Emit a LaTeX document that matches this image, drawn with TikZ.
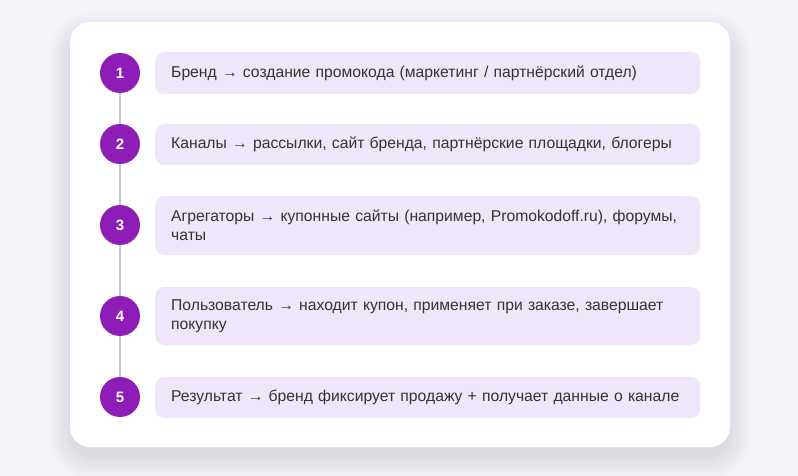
\documentclass[tikz,border=0pt]{standalone}
\usepackage{fontspec}
\setmainfont{Liberation Sans}
\definecolor{bgc}{RGB}{245,242,250}
\definecolor{boxc}{RGB}{240,230,249}
\definecolor{purp}{RGB}{142,29,184}
\definecolor{linec}{RGB}{200,200,200}
\definecolor{txt}{RGB}{51,51,51}
\tikzset{
  numc/.style={circle,fill=purp,minimum size=40pt,inner sep=0pt,text=white,font=\fontsize{15}{18}\selectfont\bfseries},
  stepbox/.style={rectangle,rounded corners=9pt,fill=boxc,anchor=west,minimum width=545pt,text width=513pt,inner xsep=16pt,align=left,text=txt,font=\fontsize{15.7}{19}\selectfont},
  vline/.style={draw=linec,line width=2pt}
}
\begin{document}
\begin{tikzpicture}[x=1pt,y=-1pt]
\fill[bgc] (0,0) rectangle (798,476);
\useasboundingbox (0,0) rectangle (798,476);
% shadow
\foreach \i in {1,...,24}{
  \fill[black,opacity=0.005,rounded corners=20pt+\i pt] (72-\i,22-\i+14) rectangle (728+\i,447+\i+8);
}
\fill[white,rounded corners=20pt] (70,22) rectangle (730,447);
% circles
\node[numc] (c1) at (120,73) {1};
\node[numc] (c2) at (120,144) {2};
\node[numc] (c3) at (120,225) {3};
\node[numc] (c4) at (120,316) {4};
\node[numc] (c5) at (120,397) {5};
% boxes
\node[stepbox,minimum height=42pt] (b1) at (155,73) {Бренд → создание промокода (маркетинг / партнёрский отдел)};
\node[stepbox,minimum height=41pt] (b2) at (155,144.5) {Каналы → рассылки, сайт бренда, партнёрские площадки, блогеры};
\node[stepbox,minimum height=59pt] (b3) at (155,225.5) {Агрегаторы → купонные сайты (например, Promokodoff.ru), форумы,\\чаты};
\node[stepbox,minimum height=58pt] (b4) at (155,316) {Пользователь → находит купон, применяет при заказе, завершает\\покупку};
\node[stepbox,minimum height=41pt] (b5) at (155,397.5) {Результат → бренд фиксирует продажу + получает данные о канале};
% connectors
\draw[vline] (c1) -- (c2);
\draw[vline] (c2) -- (c3);
\draw[vline] (c3) -- (c4);
\draw[vline] (c4) -- (c5);
\end{tikzpicture}
\end{document}
